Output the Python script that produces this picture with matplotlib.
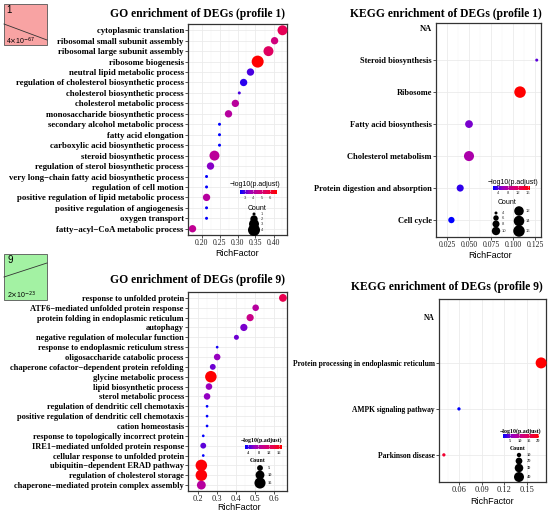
import numpy as np
import matplotlib
matplotlib.use('Agg')
import matplotlib.pyplot as plt
from matplotlib.colors import LinearSegmentedColormap, Normalize
from matplotlib.patches import Rectangle

W, H = 550, 514
nan = np.nan

# GO enrichment, profile 1 (top to bottom)
go1_terms = ['cytoplasmic translation', 'ribosomal small subunit assembly',
             'ribosomal large subunit assembly', 'ribosome biogenesis',
             'neutral lipid metabolic process', 'regulation of cholesterol biosynthetic process',
             'cholesterol biosynthetic process', 'cholesterol metabolic process',
             'monosaccharide biosynthetic process', 'secondary alcohol metabolic process',
             'fatty acid elongation', 'carboxylic acid biosynthetic process',
             'steroid biosynthetic process', 'regulation of sterol biosynthetic process',
             'very long\u2212chain fatty acid biosynthetic process', 'regulation of cell motion',
             'positive regulation of lipid metabolic process', 'positive regulation of angiogenesis',
             'oxygen transport', 'fatty\u2212acyl\u2212CoA metabolic process']
go1_rich = [0.425, 0.403, 0.386, 0.356, 0.336, 0.317, 0.305, 0.294, 0.275, 0.25,
            0.25, 0.25, 0.236, 0.225, 0.214, 0.214, 0.214, 0.214, 0.214, 0.175]
go1_count = [3, 2, 3, 4, 2, 2, 1, 2, 2, 1, 1, 1, 3, 2, 1, 1, 2, 1, 1, 2]
go1_logp = [5.6, 4.85, 5.4, 6.84, 2.95, 2.7, 2.95, 4.25, 4.2, 2.4,
            2.4, 2.4, 4.3, 3.4, 2.45, 2.45, 4.2, 2.45, 2.45, 4.4]

# KEGG enrichment, profile 1
kegg1_terms = ['NA', 'Steroid biosynthesis', 'Ribosome', 'Fatty acid biosynthesis',
               'Cholesterol metabolism', 'Protein digestion and absorption', 'Cell cycle']
kegg1_rich = [nan, 0.127, 0.108, 0.050, 0.050, 0.040, 0.030]
kegg1_count = [nan, 4, 16, 9, 13, 8, 7]
kegg1_logp = [nan, 4.2, 16.8, 5.0, 7.2, 3.2, 2.0]

# GO enrichment, profile 9
go9_terms = ['response to unfolded protein', 'ATF6\u2212mediated unfolded protein response',
             'protein folding in endoplasmic reticulum', 'autophagy',
             'negative regulation of molecular function', 'response to endoplasmic reticulum stress',
             'oligosaccharide catabolic process', 'chaperone cofactor\u2212dependent protein refolding',
             'glycine metabolic process', 'lipid biosynthetic process', 'sterol metabolic process',
             'regulation of dendritic cell chemotaxis',
             'positive regulation of dendritic cell chemotaxis', 'cation homeostasis',
             'response to topologically incorrect protein',
             'IRE1\u2212mediated unfolded protein response', 'cellular response to unfolded protein',
             'ubiquitin\u2212dependent ERAD pathway', 'regulation of cholesterol storage',
             'chaperone\u2212mediated protein complex assembly']
go9_rich = [0.648, 0.505, 0.476, 0.443, 0.404, 0.303, 0.303, 0.28, 0.27, 0.26,
            0.25, 0.25, 0.25, 0.25, 0.23, 0.23, 0.23, 0.22, 0.22, 0.22]
go9_count = [8, 6, 7, 7, 4, 2, 6, 5, 16, 6, 6, 2, 2, 2, 2, 5, 2, 16, 16, 10]
go9_logp = [13.5, 8.5, 10.0, 5.7, 5.4, 3.2, 6.4, 5.4, 17.1, 6.5,
            6.3, 2.8, 2.8, 2.9, 2.9, 5.0, 2.9, 16.8, 16.8, 8.5]

# KEGG enrichment, profile 9
kegg9_terms = ['NA', 'Protein processing in endoplasmic reticulum',
               'AMPK signaling pathway', 'Parkinson disease']
kegg9_rich = [nan, 0.169, 0.06, 0.04]
kegg9_count = [nan, 48, 7, 7]
kegg9_logp = [nan, 20.5, 1.3, 17.5]

cmap = LinearSegmentedColormap.from_list(
    'br', ['#0000FF', '#9700C0', '#CA0088', '#E8004F', '#FF0000'])

fig = plt.figure(figsize=(5.5, 5.14), dpi=100)

ov = fig.add_axes([0, 0, 1, 1], zorder=10)
ov.patch.set_alpha(0)
ov.axis('off')


def px_axes(l, t, r, b):
    return fig.add_axes([l / W, 1 - b / H, (r - l) / W, (b - t) / H])


def ptsize(c, spec):
    # area-linear size scale, spec = (count0, diam0_px, count1, diam1_px)
    c0, d0, c1, d1 = spec
    a = d0 ** 2 + (d1 ** 2 - d0 ** 2) * (np.asarray(c, float) - c0) / (c1 - c0)
    d = np.sqrt(np.clip(a, 0.5, None))
    return (d * 0.72) ** 2


def panel(box, terms, rich, count, logp, xticks, xfmt, ylim, spec, lab_fs, tick_fs):
    ax = px_axes(*box)
    n = len(terms)
    y = np.arange(n)[::-1]
    rich = np.asarray(rich, float)
    lo, hi = np.nanmin(rich), np.nanmax(rich)
    pad = (hi - lo) * 0.05
    norm = Normalize(np.nanmin(logp), np.nanmax(logp))
    ax.set_axisbelow(True)
    ax.scatter(rich, y, s=ptsize(count, spec), c=logp, cmap=cmap, norm=norm,
               edgecolors='none', clip_on=False, zorder=3)
    ax.set_xlim(lo - pad, hi + pad)
    ax.set_ylim(*ylim)
    ax.set_xticks(xticks)
    ax.set_xticklabels([xfmt % v for v in xticks], fontsize=tick_fs,
                       family='Liberation Serif', color='#222222')
    step = xticks[1] - xticks[0]
    minor = np.arange(xticks[0] - step / 2, hi + pad, step)
    ax.set_xticks(minor, minor=True)
    ax.set_yticks(y)
    ax.set_yticklabels(terms, fontsize=lab_fs, family='Liberation Serif', fontweight='bold')
    ax.grid(True, which='major', color='#EBEBEB', lw=0.6)
    ax.grid(True, which='minor', axis='x', color='#F3F3F3', lw=0.35)
    ax.tick_params(which='major', length=2, width=0.6, color='#333333', pad=1)
    ax.tick_params(which='minor', length=0)
    for sp in ax.spines.values():
        sp.set_color('#333333')
        sp.set_linewidth(0.9)
    for i, t in enumerate(terms):
        if t == 'NA':
            tk = ax.yaxis.get_major_ticks()[i]
            tk.tick1line.set_visible(False)
            tk.gridline.set_visible(False)
    return ax, norm


def legend(norm, cticks, title, tpos, bar, tick_y, cnt_pos, dots, spec, font):
    fam, wt, fs_t, fs_s = font
    ov.text(tpos[0], tpos[1], title, ha='center', va='center', fontsize=fs_t,
            family=fam, fontweight=wt)
    x0, x1, y0, y1 = bar
    ov.imshow(np.linspace(0, 1, 256)[None, :], extent=(x0, x1, y1, y0), cmap=cmap,
              aspect='auto', zorder=11)
    for v in cticks:
        xv = x0 + (v - norm.vmin) / (norm.vmax - norm.vmin) * (x1 - x0)
        ov.plot([xv, xv], [y0, y0 + 0.8], color='white', lw=0.4, zorder=12)
        ov.plot([xv, xv], [y1 - 0.8, y1], color='white', lw=0.4, zorder=12)
        ov.text(xv, tick_y, '%g' % v, ha='center', va='center', fontsize=fs_s,
                family=fam, fontweight=wt, color='#333333')
    ov.text(cnt_pos[0], cnt_pos[1], 'Count', ha='center', va='center', fontsize=fs_t,
            family=fam, fontweight=wt)
    for c, dx, dy, lx in dots:
        ov.scatter([dx], [dy], s=ptsize(c, spec), color='black', edgecolors='none', zorder=12)
        ov.text(lx, dy, '%g' % c, ha='left', va='center', fontsize=fs_s,
                family=fam, fontweight=wt, color='#333333')


# panels
ax1, n1 = panel((188, 24, 287, 235), go1_terms, go1_rich, go1_count, go1_logp,
                [0.20, 0.25, 0.30, 0.35, 0.40], '%.2f', (-0.6, 19.6), (1, 3, 4, 12), 6.3, 5.6)
ax2, n2 = panel((436, 23, 541, 237), kegg1_terms, kegg1_rich, kegg1_count, kegg1_logp,
                [0.025, 0.050, 0.075, 0.100, 0.125], '%.3f', (-0.53, 6.16), (4, 3, 16, 11.5), 6.0, 5.6)
ax3, n3 = panel((188, 292, 287, 491), go9_terms, go9_rich, go9_count, go9_logp,
                [0.2, 0.3, 0.4, 0.5, 0.6], '%.1f', (-0.6, 19.6), (2, 2.7, 16, 11.5), 6.0, 6.0)
ax4, n4 = panel((439, 299, 546, 482), kegg9_terms, kegg9_rich, kegg9_count, kegg9_logp,
                [0.06, 0.09, 0.12, 0.15], '%.2f', (-0.59, 3.39), (7, 3.3, 48, 11), 5.45, 6.0)

# titles and axis labels
tkw = dict(ha='center', va='center', family='Liberation Serif', fontweight='bold', fontsize=8.4)
ov.text(197, 14, 'GO enrichment of DEGs (profile 1)', **tkw)
ov.text(446, 14, 'KEGG enrichment of DEGs (profile 1)', **tkw)
ov.text(197, 280, 'GO enrichment of DEGs (profile 9)', **tkw)
ov.text(447, 287, 'KEGG enrichment of DEGs (profile 9)', **tkw)
lkw = dict(ha='center', va='center', family='Liberation Sans', fontsize=6.5)
ov.text(237, 253, 'RichFactor', **lkw)
ov.text(490, 256, 'RichFactor', **lkw)
ov.text(239, 507, 'RichFactor', **lkw)
ov.text(492, 501, 'RichFactor', **lkw)

# legends
sans = ('Liberation Sans', 'normal', 5.0, 3.0)
serif = ('Liberation Serif', 'bold', 4.2, 3.2)
legend(n1, [3, 4, 5, 6], '\u2212log10(p.adjust)', (255, 184), (240, 277, 190, 194), 198,
       (257, 208), [(1, 254, 214, 261), (2, 254, 219, 261), (3, 254, 224, 261), (4, 254, 230, 261)],
       (1, 3, 4, 12), sans)
legend(n2, [4, 8, 12, 16], '\u2212log10(p.adjust)', (513, 182), (493, 530, 186, 190), 193.5,
       (507, 203), [(4, 496, 213, 502), (6, 496, 218, 502), (8, 496, 224, 502), (10, 496, 231, 502),
                    (12, 519, 211, 526), (14, 519, 221, 526), (16, 519, 231, 526)],
       (4, 3, 16, 11.5), sans)
legend(n3, [4, 8, 12, 16], '\u2212log10(p.adjust)', (262, 440), (245, 282, 445, 449), 453,
       (258, 461), [(5, 260, 468, 268), (10, 260, 475, 268), (15, 260, 483, 268)],
       (2, 2.7, 16, 11.5), serif)
legend(n4, [5, 10, 15, 20], '\u2212log10(p.adjust)', (521, 431), (503, 539, 434, 438), 441,
       (518, 448), [(10, 519, 455, 527), (20, 519, 461, 527), (30, 519, 468, 527), (40, 519, 477, 527)],
       (7, 3.3, 48, 11), serif)

# profile boxes
ov.add_patch(Rectangle((4, 4), 43, 41, facecolor='#F8A3A3', edgecolor='#555555', lw=0.6))
ov.plot([4, 47], [24, 40], color='#333333', lw=0.6)
ov.text(6.5, 5, '1', ha='left', va='top', fontsize=7, family='Liberation Sans')
ov.text(5.5, 41.5, r'4$\times$10$^{-67}$', ha='left', va='center', fontsize=5, family='Liberation Sans')
ov.add_patch(Rectangle((4, 254), 43, 46, facecolor='#A3F2A3', edgecolor='#555555', lw=0.6))
ov.plot([4, 47], [277, 263], color='#333333', lw=0.6)
ov.text(7, 255, '9', ha='left', va='top', fontsize=7, family='Liberation Sans')
ov.text(7, 295, r'2$\times$10$^{-23}$', ha='left', va='center', fontsize=5, family='Liberation Sans')

ov.set_xlim(0, W)
ov.set_ylim(H, 0)

fig.savefig('out.png', dpi=100)
